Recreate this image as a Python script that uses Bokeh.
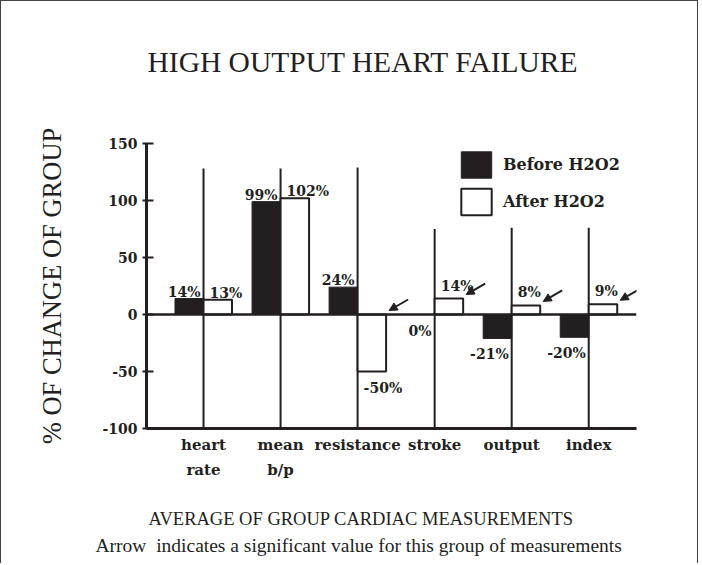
from bokeh.plotting import figure
from bokeh.models import (Range1d, FixedTicker, Span, Legend, LegendItem, Title,
                          Arrow, NormalHead, ColumnDataSource)
from bokeh.core.properties import value
from bokeh.embed import file_html
from bokeh.resources import INLINE

# ---------------- data ----------------
categories = ["heart\nrate", "mean\nb/p", "resistance", "stroke", "output", "index"]
before = [14, 99, 24, 0, -21, -20]
after = [13, 102, -50, 14, 8, 9]
significant = [False, False, True, True, True, True]
divider_tops = [128, 128, 129, 75, 76, 76]
y_ticks = [-100, -50, 0, 50, 100, 150]
series_names = ["Before H2O2", "After H2O2"]

# ---------------- layout ----------------
DARK = "#231f20"
W, H = 698, 563
FL, FR, FT, FB = 145, 635, 142, 427          # frame edges in canvas px
X0, X1 = 0.26, 6.62
Y0, Y1 = -100, 150
PPX = (FR - FL) / (X1 - X0)
PPY = (FB - FT) / (Y1 - Y0)

p = figure(width=W, height=H, x_range=Range1d(X0, X1), y_range=Range1d(Y0, Y1),
           output_backend="svg", toolbar_location=None,
           min_border_left=FL, min_border_right=W - FR,
           min_border_top=FT, min_border_bottom=H - FB)
p.styles = {"border-top": "1px solid #444", "border-left": "1px solid #444",
            "border-right": "1px solid #444"}
p.xgrid.visible = False
p.ygrid.visible = False
p.outline_line_color = None
p.background_fill_color = "white"
p.border_fill_color = "white"

xs = [i + 1 for i in range(len(categories))]
w = 0.37

# separators
p.segment(x0=xs, y0=[Y0] * len(xs), x1=xs, y1=divider_tops,
          line_color=DARK, line_width=2)

# bars
r_before = p.vbar(x=[x - w / 2 for x in xs], width=w, top=before, bottom=0,
                  fill_color=DARK, line_color=DARK, line_width=1)
r_after = p.vbar(x=[x + w / 2 for x in xs], width=w, top=after, bottom=0,
                 fill_color="white", line_color=DARK, line_width=2)

# zero line
p.add_layout(Span(location=0, dimension="width", line_color=DARK, line_width=2.5))


# value labels
def labels(vals, align, xoff, raised):
    src = ColumnDataSource(dict(
        x=xs, y=vals, t=[f"{v}%" for v in vals],
        yo=[(-13 if r else -7) if v > 0 else 8 for v, r in zip(vals, raised)],
        bl=["alphabetic" if v > 0 else "top" for v in vals]))
    p.text(x="x", y="y", text="t", source=src, text_align=align, x_offset=xoff,
           y_offset="yo", text_baseline="bl", text_font=value("DejaVu Serif"),
           text_font_style="bold", text_font_size="14px", text_color=DARK)


labels(before, "right", -3, [False] * len(before))
labels(after, "left", 6, significant)

# arrows for significant values
for i, sig in enumerate(significant):
    if not sig:
        continue
    tx = xs[i] + w + 3 / PPX
    ty = max(after[i], 0) + 4 / PPY
    p.add_layout(Arrow(end=NormalHead(size=8, fill_color=DARK, line_color=DARK),
                       x_start=tx + 19 / PPX, y_start=ty + 11 / PPY,
                       x_end=tx, y_end=ty, line_color=DARK, line_width=2))

# axes
ya = p.yaxis[0]
ya.ticker = FixedTicker(ticks=y_ticks)
ya.major_label_overrides = {t: str(t) for t in y_ticks}
ya.axis_line_width = 3
ya.axis_line_color = DARK
ya.major_tick_line_width = 2
ya.major_tick_line_color = DARK
ya.major_tick_in = 7
ya.major_tick_out = 4
ya.minor_tick_line_color = None
ya.major_label_standoff = 5
ya.major_label_text_font = "DejaVu Serif"
ya.major_label_text_font_style = "bold"
ya.major_label_text_font_size = "14px"
ya.major_label_text_color = DARK
ya.axis_label = "% OF CHANGE OF GROUP"
ya.axis_label_text_font = "Liberation Serif"
ya.axis_label_text_font_style = "normal"
ya.axis_label_text_font_size = "26.5px"
ya.axis_label_text_color = DARK
ya.axis_label_standoff = 32

xa = p.xaxis[0]
xa.ticker = FixedTicker(ticks=xs)
xa.major_label_overrides = {x: c for x, c in zip(xs, categories)}
xa.axis_line_width = 3
xa.axis_line_color = DARK
xa.major_tick_line_color = None
xa.major_tick_in = 0
xa.major_tick_out = 0
xa.minor_tick_line_color = None
xa.major_label_standoff = 7
xa.major_label_text_font = "DejaVu Serif"
xa.major_label_text_font_style = "bold"
xa.major_label_text_font_size = "15px"
xa.major_label_text_color = DARK
xa.major_label_text_line_height = 1.4

# legend
legend = Legend(items=[LegendItem(label=series_names[0], renderers=[r_before]),
                       LegendItem(label=series_names[1], renderers=[r_after])],
                location=(311, 210), glyph_width=38, glyph_height=33,
                label_standoff=8, spacing=4, padding=0, margin=0,
                border_line_alpha=0, background_fill_alpha=0,
                label_text_font="DejaVu Serif", label_text_font_style="bold",
                label_text_font_size="16px", label_text_color=DARK)
p.add_layout(legend)


# titles / captions
def title(txt, size, offset, standoff, lh=1.2):
    return Title(text=txt, align="left", offset=offset, standoff=standoff,
                 text_font="Liberation Serif", text_font_style="normal",
                 text_font_size=size, text_color=DARK, text_line_height=lh)


p.add_layout(title("HIGH OUTPUT HEART FAILURE\n\n", "29.5px", 1, 4, 1.0), "above")
p.add_layout(title("\nAVERAGE OF GROUP CARDIAC MEASUREMENTS", "18.5px", 2, 2), "below")
p.add_layout(title("Arrow\u00a0 indicates a significant value for this group of measurements",
                   "19.5px", -51, 6), "below")

open("out.html", "w").write(file_html(p, INLINE))
